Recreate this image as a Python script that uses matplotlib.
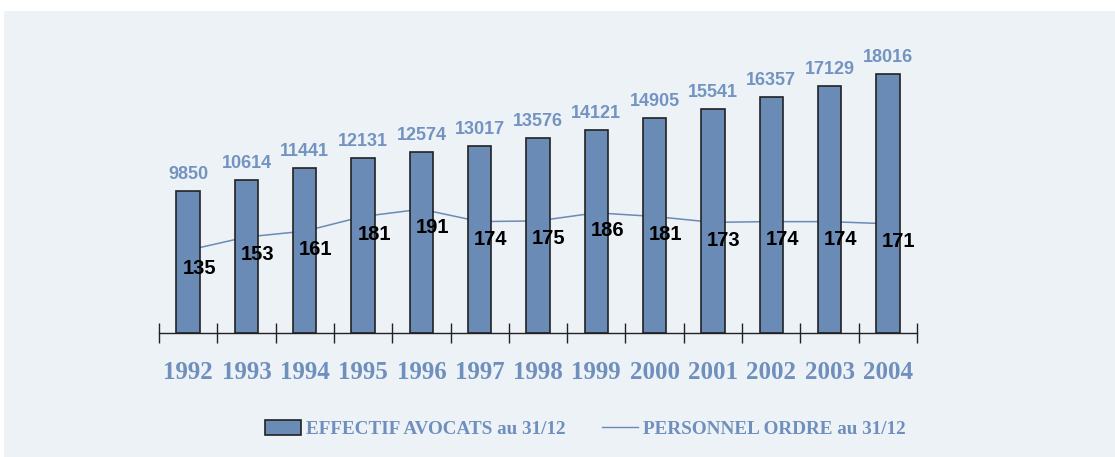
import numpy as np
import matplotlib
matplotlib.use('Agg')
import matplotlib.pyplot as plt
from matplotlib.patches import Rectangle, Patch
from matplotlib.lines import Line2D

# données
annees = ['1992', '1993', '1994', '1995', '1996', '1997', '1998',
          '1999', '2000', '2001', '2002', '2003', '2004']
avocats = [9850, 10614, 11441, 12131, 12574, 13017, 13576,
           14121, 14905, 15541, 16357, 17129, 18016]
personnel = [135, 153, 161, 181, 191, 174, 175, 186, 181, 173, 174, 174, 171]

bleu = '#6a8bb5'
bleu_txt = '#7393c0'
fond = '#edf2f7'

fig = plt.figure(figsize=(11.15, 4.57), dpi=100, facecolor='white')
# cadre de fond
fig.patches.append(Rectangle((4 / 1115, 0), 1 - 4 / 1115, 1 - 11 / 457,
                             transform=fig.transFigure, facecolor=fond,
                             edgecolor='none', zorder=-5))

ax = fig.add_axes([159 / 1115, 1 - 333 / 457, 758 / 1115, 288 / 457])
ax2 = ax.twinx()
ax2.set_zorder(1)
ax.set_zorder(2)
ax.patch.set_visible(False)
ax2.patch.set_visible(False)

x = np.arange(len(annees))

# barres
ax.bar(x, avocats, width=0.4, color=bleu, edgecolor='#222222', linewidth=1.2)
for i, v in enumerate(avocats):
    ax.annotate(str(v), xy=(i, v), xytext=(0, 8), textcoords='offset pixels',
                ha='center', va='bottom', fontsize=13, fontweight='bold',
                color=bleu_txt, family='Liberation Sans')

# courbe (derrière les barres)
ax2.plot(x, personnel, color=bleu, linewidth=1.1)
ax2.set_ylim(22, 415)
for i, v in enumerate(personnel):
    ax.annotate(str(v), xy=(i, v), xycoords=ax2.transData,
                xytext=(11, -18), textcoords='offset pixels',
                ha='center', va='center', fontsize=14.5, fontweight='bold',
                color='black', family='Liberation Sans')

ax.set_xlim(-0.5, len(annees) - 0.5)
ax.set_ylim(0, 20000)
ax.set_yticks([])
ax2.set_yticks([])
for a in (ax, ax2):
    for s in ['top', 'left', 'right']:
        a.spines[s].set_visible(False)
ax2.spines['bottom'].set_visible(False)
ax.spines['bottom'].set_color('#222222')
ax.spines['bottom'].set_linewidth(1)

# ticks entre les catégories, années au centre
ax.set_xticks(np.arange(-0.5, len(annees), 1.0))
ax.set_xticklabels([])
ax.tick_params(axis='x', which='major', direction='inout', length=14,
               width=1, color='#222222')
ax.set_xticks(x, minor=True)
ax.set_xticklabels(annees, minor=True, fontsize=18, fontweight='bold',
                   color='#6f8fbd', family='Liberation Serif')
ax.tick_params(axis='x', which='minor', length=0, pad=20)

# légende
handles = [Patch(facecolor=bleu, edgecolor='#222222', linewidth=1.2),
           Line2D([0], [0], color=bleu, linewidth=1)]
leg = fig.legend(handles, ['EFFECTIF AVOCATS au 31/12', 'PERSONNEL ORDRE au 31/12'],
                 loc='center', bbox_to_anchor=(0.525, 0.061), ncol=2,
                 frameon=False, handlelength=1.9, handleheight=0.8,
                 handletextpad=0.25, columnspacing=1.9,
                 prop={'family': 'Liberation Serif', 'weight': 'bold', 'size': 13.8})
for t in leg.get_texts():
    t.set_color('#6f8fbd')

fig.savefig('out.png', dpi=100, facecolor='white')
